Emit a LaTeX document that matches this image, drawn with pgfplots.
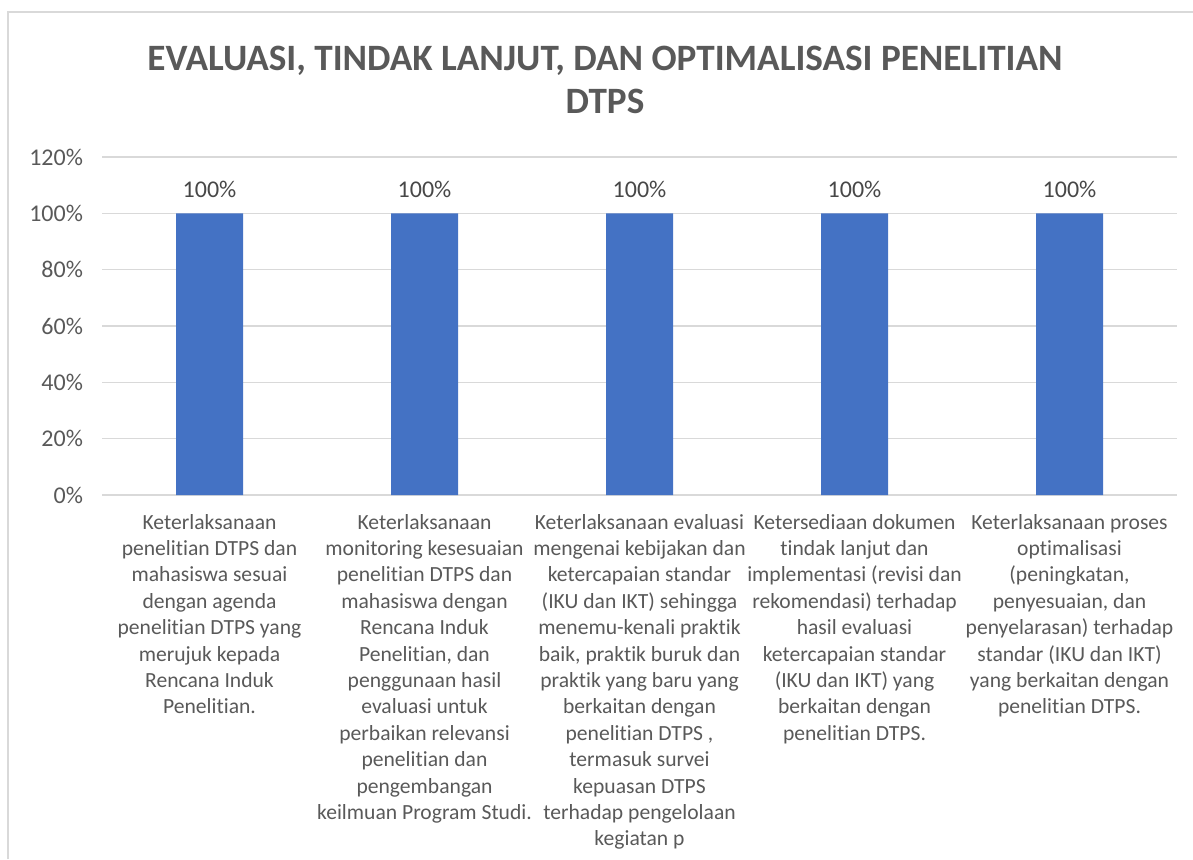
\documentclass[border=0pt]{standalone}
\usepackage{fontspec}
\setmainfont{Carlito}[Ligatures={NoCommon}]
\usepackage{pgfplots}
\pgfplotsset{compat=1.18}
\definecolor{barblue}{HTML}{4472C4}
\definecolor{txtgray}{HTML}{595959}
\definecolor{gridgray}{HTML}{D9D9D9}
\begin{document}
\begin{tikzpicture}
\path[use as bounding box] (0,0) rectangle (596.5pt,429.5pt);
\draw[gridgray, line width=1pt] (4pt,0) -- (4pt,423.25pt) -- (596.5pt,423.25pt);
\node[align=center, text=txtgray, font=\fontsize{18.6}{21.5}\selectfont\bfseries]
  at (302.5pt,389.75pt) {EVALUASI, TINDAK LANJUT, DAN OPTIMALISASI PENELITIAN\\DTPS};
\begin{axis}[
  at={(51pt,182pt)}, anchor=south west,
  scale only axis, width=537.5pt, height=169pt,
  ymin=0, ymax=120, ytick={0,20,...,120},
  yticklabel={\pgfmathprintnumber{\tick}\%},
  xmin=-0.5, xmax=4.5, xtick={0,1,2,3,4},
  xticklabels={
    {Keterlaksanaan\\penelitian DTPS dan\\mahasiswa sesuai\\dengan agenda\\penelitian DTPS yang\\merujuk kepada\\Rencana Induk\\Penelitian.},
    {Keterlaksanaan\\monitoring kesesuaian\\penelitian DTPS dan\\mahasiswa dengan\\Rencana Induk\\Penelitian, dan\\penggunaan hasil\\evaluasi untuk\\perbaikan relevansi\\penelitian dan\\pengembangan\\keilmuan Program Studi.},
    {Keterlaksanaan evaluasi\\mengenai kebijakan dan\\ketercapaian standar\\(IKU dan IKT) sehingga\\menemu-kenali praktik\\baik, praktik buruk dan\\praktik yang baru yang\\berkaitan dengan\\penelitian DTPS ,\\termasuk survei\\kepuasan DTPS\\terhadap pengelolaan\\kegiatan p},
    {Ketersediaan dokumen\\tindak lanjut dan\\implementasi (revisi dan\\rekomendasi) terhadap\\hasil evaluasi\\ketercapaian standar\\(IKU dan IKT) yang\\berkaitan dengan\\penelitian DTPS.},
    {Keterlaksanaan proses\\optimalisasi\\(peningkatan,\\penyesuaian, dan\\penyelarasan) terhadap\\standar (IKU dan IKT)\\yang berkaitan dengan\\penelitian DTPS.}
  },
  xticklabel style={align=center, anchor=north, yshift=-6pt,
    font=\fontsize{10.8}{13.2}\selectfont, text=txtgray},
  yticklabel style={font=\fontsize{12}{13}\selectfont, text=txtgray, xshift=-6pt},
  /pgf/number format/assume math mode=true,
  axis x line*=bottom, axis y line*=left,
  x axis line style={gridgray, line width=0.8pt},
  y axis line style={draw=none},
  major tick length=0pt,
  ymajorgrids, grid style={gridgray, line width=0.8pt},
  ybar, bar width=33.5pt,
  nodes near coords={\pgfmathprintnumber{\pgfplotspointmeta}\%},
  nodes near coords style={font=\fontsize{12}{13}\selectfont, text=txtgray!80!black, yshift=4.5pt},
  clip=false,
]
\addplot[fill=barblue, draw=none] coordinates {(0,100) (1,100) (2,100) (3,100) (4,100)};
\end{axis}
\end{tikzpicture}
\end{document}
